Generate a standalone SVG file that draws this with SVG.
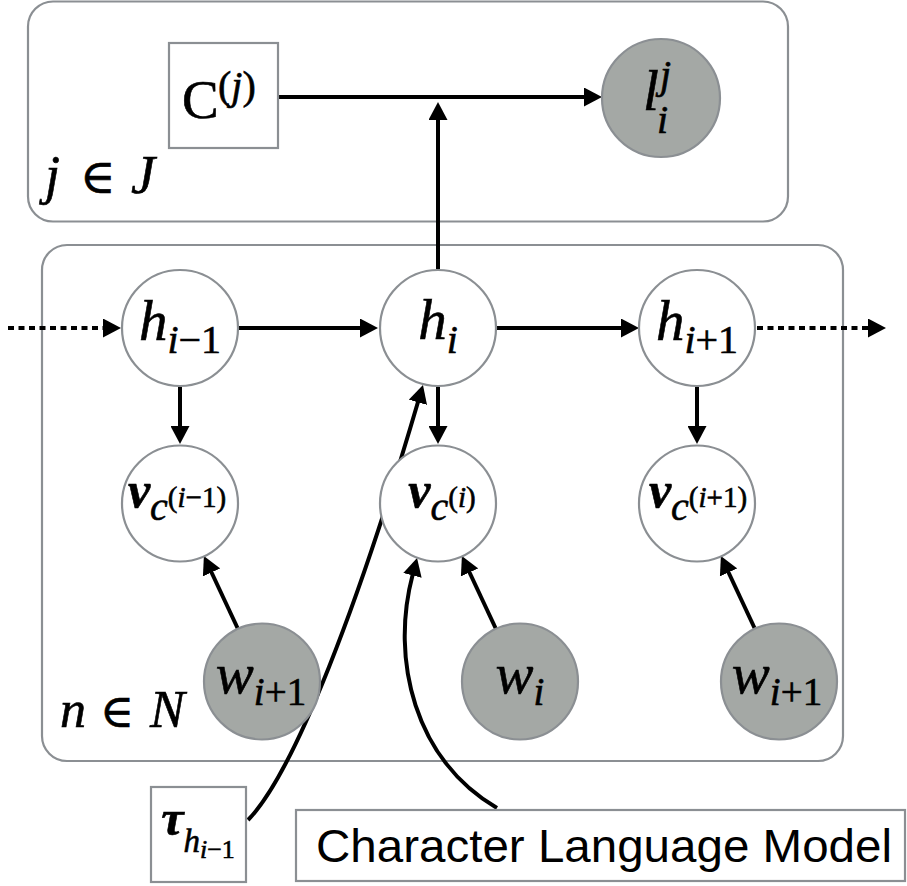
<svg xmlns="http://www.w3.org/2000/svg" width="907" height="886" viewBox="0 0 907 886">
  <style>
    .plate { fill: #ffffff; stroke: #8b8f93; stroke-width: 2.2; }
    .node { fill: #ffffff; stroke: #8b8f93; stroke-width: 2.2; }
    .obs { fill: #a4a8a5; stroke: #8b8f93; stroke-width: 2.2; }
    .edge { fill: none; stroke: #000000; stroke-width: 4; marker-end: url(#ah); }
    .dot { stroke-dasharray: 6 4.5; }
    .m { font-family: "Liberation Serif", "Times New Roman", "DejaVu Serif", serif; font-style: italic; fill: #000000; stroke: #000000; stroke-width: 0.6; }
    .up { font-style: normal; }
    .bi { font-weight: bold; }
    .sans { font-family: "Liberation Sans", Arial, sans-serif; fill: #000000; }
  </style>
  <defs>
    <marker id="ah" viewBox="0 0 18 19" markerWidth="18" markerHeight="19" refX="1" refY="9.5" markerUnits="userSpaceOnUse" orient="auto">
      <path d="M0,0 L18,9.5 L0,19 Z" fill="#000000"/>
    </marker>
  </defs>

  <!-- plates -->
  <g id="plate-J">
    <rect class="plate" x="28" y="1.5" width="760" height="220" rx="25" ry="25"/>
    <text class="m" y="193" font-size="54"><tspan x="45">j</tspan><tspan x="80" class="up" font-size="48">∈</tspan><tspan x="131">J</tspan></text>
  </g>
  <g id="plate-N">
    <rect class="plate" x="42" y="245" width="801" height="516" rx="25" ry="25"/>
    <text class="m" y="727" font-size="52"><tspan x="60">n</tspan><tspan x="100" class="up" font-size="46">∈</tspan><tspan x="150">N</tspan></text>
  </g>

  <!-- connectors -->
  <g id="connectors">
    <line class="edge" x1="278" y1="97" x2="585" y2="97"/>
    <line class="edge" x1="438" y1="269" x2="438" y2="119"/>
    <line class="edge dot" x1="8" y1="328" x2="104" y2="328"/>
    <line class="edge" x1="239" y1="328" x2="361" y2="328"/>
    <line class="edge" x1="497" y1="328" x2="622" y2="328"/>
    <line class="edge dot" x1="757" y1="328" x2="869" y2="328"/>
    <line class="edge" x1="180" y1="387" x2="180" y2="427"/>
    <line class="edge" x1="438" y1="387" x2="438" y2="427"/>
    <line class="edge" x1="697" y1="387" x2="697" y2="427"/>
    <line class="edge" x1="238" y1="629" x2="211.1" y2="571.5"/>
    <line class="edge" x1="496" y1="629" x2="469.1" y2="571.5"/>
    <line class="edge" x1="755" y1="629" x2="728.1" y2="571.5"/>
    <path class="edge" d="M248,820 C295,772 360,600 418.2,401.3"/>
    <path class="edge" d="M497,808 C415,760 390,660 412.7,574.4"/>
  </g>

  <!-- nodes -->
  <g id="node-C">
    <rect class="node" x="169" y="43" width="109" height="105"/>
    <text class="m" y="118"><tspan x="182" class="up" font-size="55">C</tspan><tspan x="218" y="99" class="up" font-size="40">(</tspan><tspan font-size="40">j</tspan><tspan class="up" font-size="40">)</tspan></text>
  </g>
  <g id="node-l">
    <circle class="obs" cx="661" cy="98" r="59"/>
    <text class="m" x="643" y="110" font-size="57">l</text>
    <text class="m" x="660" y="88" font-size="40">j</text>
    <text class="m" x="657" y="133" font-size="40">i</text>
  </g>

  <g id="node-h-prev">
    <circle class="node" cx="180" cy="328" r="58"/>
    <text class="m" x="180" y="340" font-size="57" text-anchor="middle">h<tspan dy="13" font-size="40">i<tspan class="up">−1</tspan></tspan></text>
  </g>
  <g id="node-h">
    <circle class="node" cx="438" cy="328" r="58"/>
    <text class="m" x="438" y="339" font-size="57" text-anchor="middle">h<tspan dy="14" font-size="40">i</tspan></text>
  </g>
  <g id="node-h-next">
    <circle class="node" cx="697" cy="328" r="58"/>
    <text class="m" x="697" y="340" font-size="57" text-anchor="middle">h<tspan dy="13" font-size="40">i<tspan class="up">+1</tspan></tspan></text>
  </g>

  <g id="node-v-prev">
    <circle class="node" cx="180" cy="503.5" r="58"/>
    <text class="m" x="177" y="507" text-anchor="middle"><tspan class="bi" font-size="50">v</tspan><tspan dy="13" font-size="40">c</tspan><tspan dy="-13" font-size="29"><tspan class="up">(</tspan>i<tspan class="up">−1)</tspan></tspan></text>
  </g>
  <g id="node-v">
    <circle class="node" cx="438" cy="503.5" r="58"/>
    <text class="m" x="442" y="507" text-anchor="middle"><tspan class="bi" font-size="50">v</tspan><tspan dy="13" font-size="40">c</tspan><tspan dy="-13" font-size="29"><tspan class="up">(</tspan>i<tspan class="up">)</tspan></tspan></text>
  </g>
  <g id="node-v-next">
    <circle class="node" cx="697" cy="503.5" r="58"/>
    <text class="m" x="698" y="507" text-anchor="middle"><tspan class="bi" font-size="50">v</tspan><tspan dy="13" font-size="40">c</tspan><tspan dy="-13" font-size="29"><tspan class="up">(</tspan>i<tspan class="up">+1)</tspan></tspan></text>
  </g>

  <g id="node-w-left">
    <circle class="obs" cx="262" cy="681.5" r="58"/>
    <text class="m" x="261" y="693" font-size="57" text-anchor="middle">w<tspan dy="12" font-size="39">i<tspan class="up">+1</tspan></tspan></text>
  </g>
  <g id="node-w">
    <circle class="obs" cx="520" cy="681.5" r="58"/>
    <text class="m" x="520" y="693" font-size="57" text-anchor="middle">w<tspan dy="12" font-size="39">i</tspan></text>
  </g>
  <g id="node-w-right">
    <circle class="obs" cx="779" cy="681.5" r="58"/>
    <text class="m" x="777" y="693" font-size="57" text-anchor="middle">w<tspan dy="12" font-size="39">i<tspan class="up">+1</tspan></tspan></text>
  </g>

  <g id="node-tau">
    <rect class="node" x="151" y="787" width="95" height="95"/>
    <text class="m" x="198" y="835" text-anchor="middle"><tspan class="bi" font-size="50">τ</tspan><tspan dy="17" font-size="33">h</tspan><tspan dy="6" font-size="26">i<tspan class="up">−1</tspan></tspan></text>
  </g>
  <g id="node-clm">
    <rect class="node" x="296" y="810" width="609" height="71"/>
    <text class="sans" x="316" y="862" font-size="47" textLength="576" lengthAdjust="spacingAndGlyphs">Character Language Model</text>
  </g>
</svg>
